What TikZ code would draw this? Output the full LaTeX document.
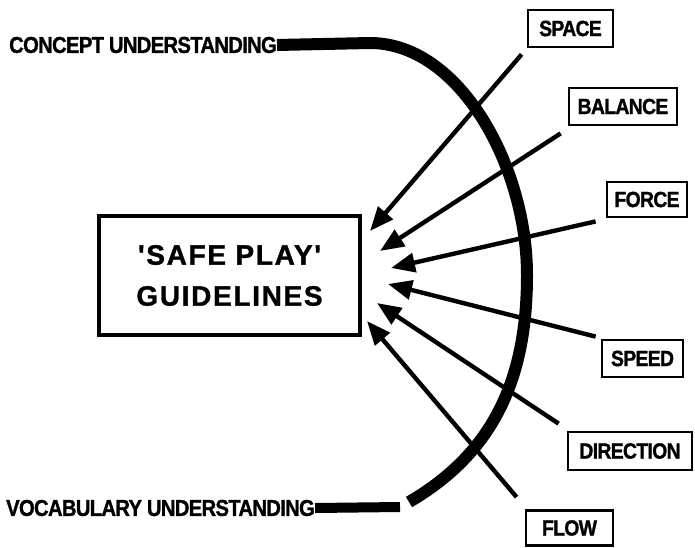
\documentclass[tikz,border=0pt]{standalone}
\usepackage{fontspec}
\setmainfont{Liberation Sans}
\newfontfamily\labfont{Liberation Sans}[FakeStretch=0.88,LetterSpace=-3,FakeBold=1.2]
\newfontfamily\titlefont{Liberation Sans}[LetterSpace=6,FakeBold=1.2]
\usetikzlibrary{arrows.meta}
\begin{document}
\begin{tikzpicture}[x=1pt,y=1pt,
  lab/.style={draw, line width=2.8pt, inner sep=0pt, minimum height=37pt,
    font=\labfont\bfseries\fontsize{22pt}{22pt}\selectfont},
  side/.style={inner sep=0pt, font=\labfont\bfseries\fontsize{23pt}{23pt}\selectfont},
  mainbox/.style={draw, line width=3.6pt, inner sep=0pt, align=center,
    minimum width=261pt, minimum height=119pt,
    font=\titlefont\bfseries\fontsize{28pt}{41pt}\selectfont},
  arr/.style={line width=4.4pt, -{Triangle[length=24pt,width=19pt]}},
  bracket/.style={line width=12pt, line cap=butt, line join=round}
]
\useasboundingbox (0,0) rectangle (695,547);

% side texts
\node[side, anchor=west] (concept) at (9,502) {CONCEPT UNDERSTANDING};
\node[side, anchor=west] (vocab) at (6,39) {VOCABULARY UNDERSTANDING};

% bracket
\draw[bracket] (concept.east) -- (370,504)
  .. controls (460,504) and (527,380) .. (527,272)
  .. controls (527,170) and (495,95) .. (409,45);
\draw[line width=10pt] (vocab.east) -- (400,40);

% main box
\node[mainbox] (safe) at (229.5,271.5) {'SAFE PLAY'\\GUIDELINES};

% labels
\node[lab, minimum width=85pt]  (space) at (570.5,518.5) {SPACE};
\node[lab, minimum width=108pt] (balance) at (623,440.5) {BALANCE};
\node[lab, minimum width=80pt, minimum height=35pt] (force) at (647,347.5) {FORCE};
\node[lab, minimum width=81pt]  (speed) at (642.5,188.5) {SPEED};
\node[lab, minimum width=124pt, minimum height=38pt] (direction) at (630,96) {DIRECTION};
\node[lab, minimum width=87pt, minimum height=35pt] (flow) at (569.5,19) {FLOW};

% arrow tips
\coordinate (tS) at (370,316);
\coordinate (tB) at (380,296);
\coordinate (tF) at (391,279);
\coordinate (tSp) at (388,263);
\coordinate (tD) at (377,244);
\coordinate (tFl) at (367,226);

\draw[arr] ([shift={(-5,-6)}]space.south west) -- (tS);
\draw[arr] ([shift={(-7,-7)}]balance.south west) -- (tB);
\draw[arr] ([shift={(-10,-3)}]force.south west) -- (tF);
\draw[arr] ([shift={(-5,2)}]speed.north west) -- (tSp);
\draw[arr] ([shift={(-8,7)}]direction.north west) -- (tD);
\draw[arr] ([shift={(-8,12)}]flow.north west) -- (tFl);
\end{tikzpicture}
\end{document}
